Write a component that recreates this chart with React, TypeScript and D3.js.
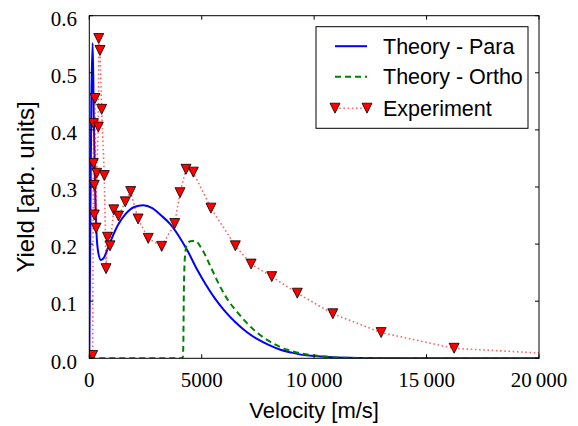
import { useRef, useEffect } from "react";
import * as d3 from "d3";

// Theory - Para curve
const paraVelocity = [0, 40, 90, 150, 200, 260, 320, 400, 520, 650, 800, 1000, 1300, 1600, 2000, 2400, 2800, 3200, 3600, 4000, 4400, 4800, 5200, 5600, 6000, 6500, 7000, 7500, 8000, 8500, 9000, 9500, 10000, 11000, 12000, 14000, 20000];
const paraYield = [0, 0.2, 0.45, 0.552, 0.42, 0.3, 0.22, 0.185, 0.172, 0.176, 0.19, 0.21, 0.235, 0.252, 0.265, 0.268, 0.263, 0.25, 0.235, 0.213, 0.186, 0.155, 0.128, 0.104, 0.084, 0.063, 0.046, 0.033, 0.023, 0.015, 0.01, 0.006, 0.004, 0.0015, 0.0005, 0.0001, 0];

// Theory - Ortho curve
const orthoVelocity = [0, 4150, 4180, 4200, 4230, 4280, 4350, 4500, 4700, 5000, 5400, 5800, 6200, 6600, 7000, 7400, 8000, 8800, 9500, 10500, 12000, 20000];
const orthoYield = [0, 0, 0.02, 0.1, 0.16, 0.188, 0.2, 0.205, 0.206, 0.192, 0.16, 0.127, 0.1, 0.08, 0.062, 0.047, 0.03, 0.015, 0.008, 0.003, 0.0005, 0];

// Experiment points
const expVelocity = [150, 180, 185, 222, 225, 253, 300, 330, 400, 420, 475, 550, 667, 745, 810, 920, 1090, 1300, 1600, 1840, 2170, 2620, 3220, 3800, 4035, 4300, 4625, 5410, 6495, 7195, 8115, 9250, 10830, 12980, 16225, 22000];
const expYield = [0.005, 0.341, 0.411, 0.303, 0.251, 0.455, 0.228, 0.324, 0.405, 0.56, 0.539, 0.436, 0.32, 0.157, 0.212, 0.197, 0.26, 0.249, 0.274, 0.292, 0.244, 0.21, 0.196, 0.236, 0.29, 0.331, 0.326, 0.263, 0.197, 0.165, 0.143, 0.114, 0.078, 0.045, 0.0175, 0.005];

const xTicks = [0, 5000, 10000, 15000, 20000];
const yTicks = [0, 0.1, 0.2, 0.3, 0.4, 0.5, 0.6];

const legendItems = ["Theory - Para", "Theory - Ortho", "Experiment"];

const width = 578;
const height = 426;
const margin = { top: 15.7, right: 39, bottom: 67.7, left: 89.3 };

const App = () => {
  const svgRef = useRef<SVGSVGElement | null>(null);

  useEffect(() => {
    document.body.style.margin = "0";
    if (!svgRef.current) return;
    d3.select(svgRef.current).selectAll("*").remove();

    const svg = d3.select(svgRef.current);
    const chartWidth = width - margin.left - margin.right;
    const chartHeight = height - margin.top - margin.bottom;
    const serif = "'Liberation Serif', 'Times New Roman', serif";
    const sans = "'Liberation Sans', Arial, sans-serif";

    const x = d3.scaleLinear().domain([0, 20000]).range([0, chartWidth]);
    const y = d3.scaleLinear().domain([0, 0.6]).range([chartHeight, 0]);

    svg.append("defs")
      .append("clipPath")
      .attr("id", "plot-clip")
      .append("rect")
      .attr("width", chartWidth)
      .attr("height", chartHeight);

    const chart = svg.append("g")
      .attr("transform", `translate(${margin.left},${margin.top})`);

    const plot = chart.append("g").attr("clip-path", "url(#plot-clip)");

    const line = d3.line<[number, number]>()
      .x(d => x(d[0]))
      .y(d => y(d[1]))
      .curve(d3.curveMonotoneX);

    const para = paraVelocity.map((v, i) => [v, paraYield[i]] as [number, number]);
    const ortho = orthoVelocity.map((v, i) => [v, orthoYield[i]] as [number, number]);
    const exp = expVelocity.map((v, i) => [v, expYield[i]] as [number, number]);

    plot.append("path")
      .attr("d", line(para))
      .attr("fill", "none")
      .attr("stroke", "#0000ff")
      .attr("stroke-width", 2);

    plot.append("path")
      .attr("d", line(ortho))
      .attr("fill", "none")
      .attr("stroke", "#008000")
      .attr("stroke-width", 2)
      .attr("stroke-dasharray", "6,4");

    const straight = d3.line<[number, number]>()
      .x(d => x(d[0]))
      .y(d => y(d[1]));

    plot.append("path")
      .attr("d", straight(exp))
      .attr("fill", "none")
      .attr("stroke", "#ff0000")
      .attr("stroke-opacity", 0.6)
      .attr("stroke-width", 1.6)
      .attr("stroke-dasharray", "1.6,2.6");

    const tri = "M-5,-5L5,-5L0,5Z";
    plot.selectAll(".marker")
      .data(exp)
      .enter()
      .append("path")
      .attr("class", "marker")
      .attr("d", tri)
      .attr("transform", d => `translate(${x(d[0])},${y(d[1])})`)
      .attr("fill", "#ff0000")
      .attr("stroke", "#000")
      .attr("stroke-width", 0.8);

    // frame
    chart.append("rect")
      .attr("width", chartWidth)
      .attr("height", chartHeight)
      .attr("fill", "none")
      .attr("stroke", "#000")
      .attr("stroke-width", 1);

    // ticks, inward on all sides
    const tickLen = 4;
    xTicks.forEach(t => {
      chart.append("line")
        .attr("x1", x(t)).attr("x2", x(t))
        .attr("y1", chartHeight).attr("y2", chartHeight - tickLen)
        .attr("stroke", "#000");
      chart.append("line")
        .attr("x1", x(t)).attr("x2", x(t))
        .attr("y1", 0).attr("y2", tickLen)
        .attr("stroke", "#000");
      chart.append("text")
        .attr("x", x(t))
        .attr("y", chartHeight + 29)
        .attr("text-anchor", "middle")
        .attr("font-family", serif)
        .attr("font-size", 21)
        .text(t >= 10000 ? d3.format(",")(t).replace(",", "\u2009") : String(t));
    });
    yTicks.forEach(t => {
      chart.append("line")
        .attr("x1", 0).attr("x2", tickLen)
        .attr("y1", y(t)).attr("y2", y(t))
        .attr("stroke", "#000");
      chart.append("line")
        .attr("x1", chartWidth).attr("x2", chartWidth - tickLen)
        .attr("y1", y(t)).attr("y2", y(t))
        .attr("stroke", "#000");
      chart.append("text")
        .attr("x", -12.3)
        .attr("y", y(t) + 10.3)
        .attr("text-anchor", "end")
        .attr("font-family", serif)
        .attr("font-size", 21)
        .text(d3.format(".1f")(t));
    });

    // axis titles
    svg.append("text")
      .attr("x", margin.left + chartWidth / 2)
      .attr("y", 418)
      .attr("text-anchor", "middle")
      .attr("font-family", sans)
      .attr("font-size", 22)
      .text("Velocity [m/s]");
    svg.append("text")
      .attr("transform", `translate(34,${margin.top + chartHeight / 2}) rotate(-90)`)
      .attr("text-anchor", "middle")
      .attr("font-family", sans)
      .attr("font-size", 24)
      .text("Yield [arb. units]");

    // legend
    const legend = svg.append("g").attr("transform", "translate(316,26.7)");
    legend.append("rect")
      .attr("width", 212)
      .attr("height", 101.6)
      .attr("fill", "#fff")
      .attr("stroke", "#000")
      .attr("stroke-width", 1);
    const rowY = [19.5, 50, 81.5];
    legendItems.forEach((label, i) => {
      const ly = rowY[i];
      if (i === 0) {
        legend.append("line")
          .attr("x1", 19).attr("x2", 51).attr("y1", ly).attr("y2", ly)
          .attr("stroke", "#0000ff").attr("stroke-width", 2);
      } else if (i === 1) {
        legend.append("line")
          .attr("x1", 19).attr("x2", 51).attr("y1", ly).attr("y2", ly)
          .attr("stroke", "#008000").attr("stroke-width", 2)
          .attr("stroke-dasharray", "6,4");
      } else {
        legend.append("line")
          .attr("x1", 19).attr("x2", 51).attr("y1", ly).attr("y2", ly)
          .attr("stroke", "#ff0000").attr("stroke-opacity", 0.6)
          .attr("stroke-width", 1.6).attr("stroke-dasharray", "1.6,2.6");
        [19, 51].forEach(mx => {
          legend.append("path")
            .attr("d", tri)
            .attr("transform", `translate(${mx},${ly})`)
            .attr("fill", "#ff0000")
            .attr("stroke", "#000")
            .attr("stroke-width", 0.8);
        });
      }
      legend.append("text")
        .attr("x", 67)
        .attr("y", ly)
        .attr("dy", "0.36em")
        .attr("font-family", sans)
        .attr("font-size", 21.5)
        .text(label);
    });
  }, []);

  return (
    <svg ref={svgRef} width={width} height={height} viewBox={`0 0 ${width} ${height}`} style={{ display: "block" }}></svg>
  );
};

export default App;
